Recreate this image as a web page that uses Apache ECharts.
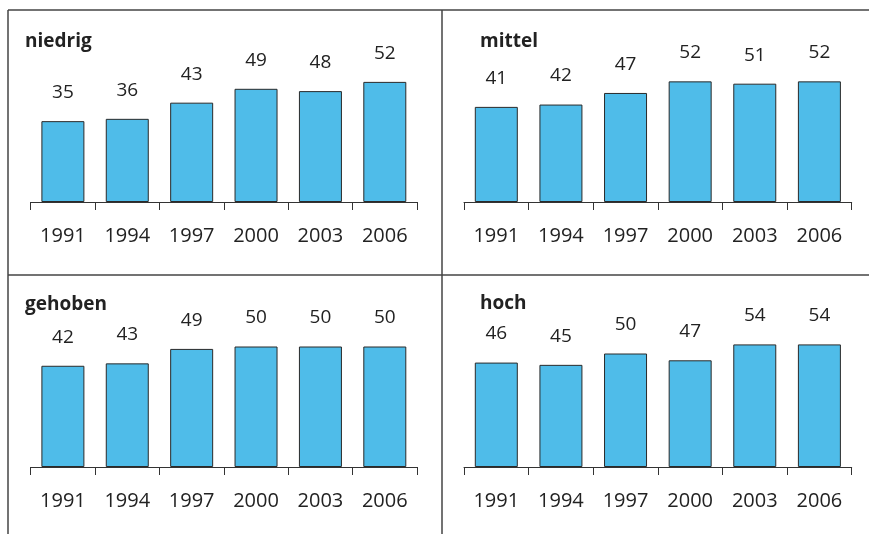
<!DOCTYPE html>
<html>
<head>
<meta charset="utf-8">
<title>niedrig / mittel / gehoben / hoch</title>
<script src="https://cdn.jsdelivr.net/npm/echarts@6/dist/echarts.min.js"></script>
<style>
  html, body { margin: 0; padding: 0; background: #fff; }
  #box { width: 869px; height: 534px; }
</style>
</head>
<body>
<div id="box"></div>
<script>
// Daten
var years = ['1991', '1994', '1997', '2000', '2003', '2006'];
var panelNames = ['niedrig', 'mittel', 'gehoben', 'hoch'];
var niedrig = [35, 36, 43, 49, 48, 52];
var mittel = [41, 42, 47, 52, 51, 52];
var gehoben = [42, 43, 49, 50, 50, 50];
var hoch = [46, 45, 50, 47, 54, 54];
var panelData = [niedrig, mittel, gehoben, hoch];

var font = '"Open Sans", "Noto Sans", sans-serif';
var textColor = '#222';
var frameColor = '#444';

// Position der vier Felder (Achse unten, Skala px pro Einheit)
var panels = [
    { left: 30.7, width: 386.3, axisY: 202, scale: 2.31, titleX: 20, titleY: 27 },
    { left: 464, width: 387.7, axisY: 202, scale: 2.32, titleX: 475, titleY: 27 },
    { left: 30.7, width: 386.3, axisY: 467, scale: 2.41, titleX: 20, titleY: 290 },
    { left: 464, width: 387.7, axisY: 467, scale: 2.27, titleX: 475, titleY: 289 }
];
var yMax = 80;

var grid = [], xAxis = [], yAxis = [], series = [], title = [];
panels.forEach(function (p, i) {
    var h = yMax * p.scale;
    grid.push({ left: p.left, width: p.width, top: p.axisY - h, height: h });
    xAxis.push({
        type: 'category', gridIndex: i, data: years,
        axisLine: { lineStyle: { color: '#333', width: 1 } },
        axisTick: { show: true, length: 8, lineStyle: { color: '#333' } },
        axisLabel: { color: textColor, fontSize: 20, fontFamily: font, margin: 24 }
    });
    yAxis.push({
        type: 'value', gridIndex: i, min: 0, max: yMax, show: false,
        splitLine: { show: false }
    });
    series.push({
        type: 'bar', xAxisIndex: i, yAxisIndex: i, barWidth: 43,
        data: panelData[i],
        itemStyle: { color: '#4FBCE9', borderColor: '#2a2a2a', borderWidth: 1 },
        label: {
            show: true, position: 'top', distance: 19,
            color: textColor, fontSize: 19, fontFamily: font
        }
    });
    title.push({
        text: panelNames[i], left: p.titleX, top: p.titleY,
        textStyle: { color: textColor, fontSize: 19, fontWeight: 'bold', fontFamily: font }
    });
});

// Rahmenlinien
function line(x1, y1, x2, y2) {
    return { type: 'line', shape: { x1: x1, y1: y1, x2: x2, y2: y2 },
             style: { stroke: frameColor, lineWidth: 1.5 }, silent: true };
}

var myChart = echarts.init(document.getElementById('box'));
myChart.setOption({
    animation: false,
    title: title,
    grid: grid,
    xAxis: xAxis,
    yAxis: yAxis,
    series: series,
    graphic: [
        line(8, 10, 869, 10),
        line(8, 10, 8, 534),
        line(442, 10, 442, 534),
        line(8, 275, 869, 275)
    ]
});
</script>
</body>
</html>
